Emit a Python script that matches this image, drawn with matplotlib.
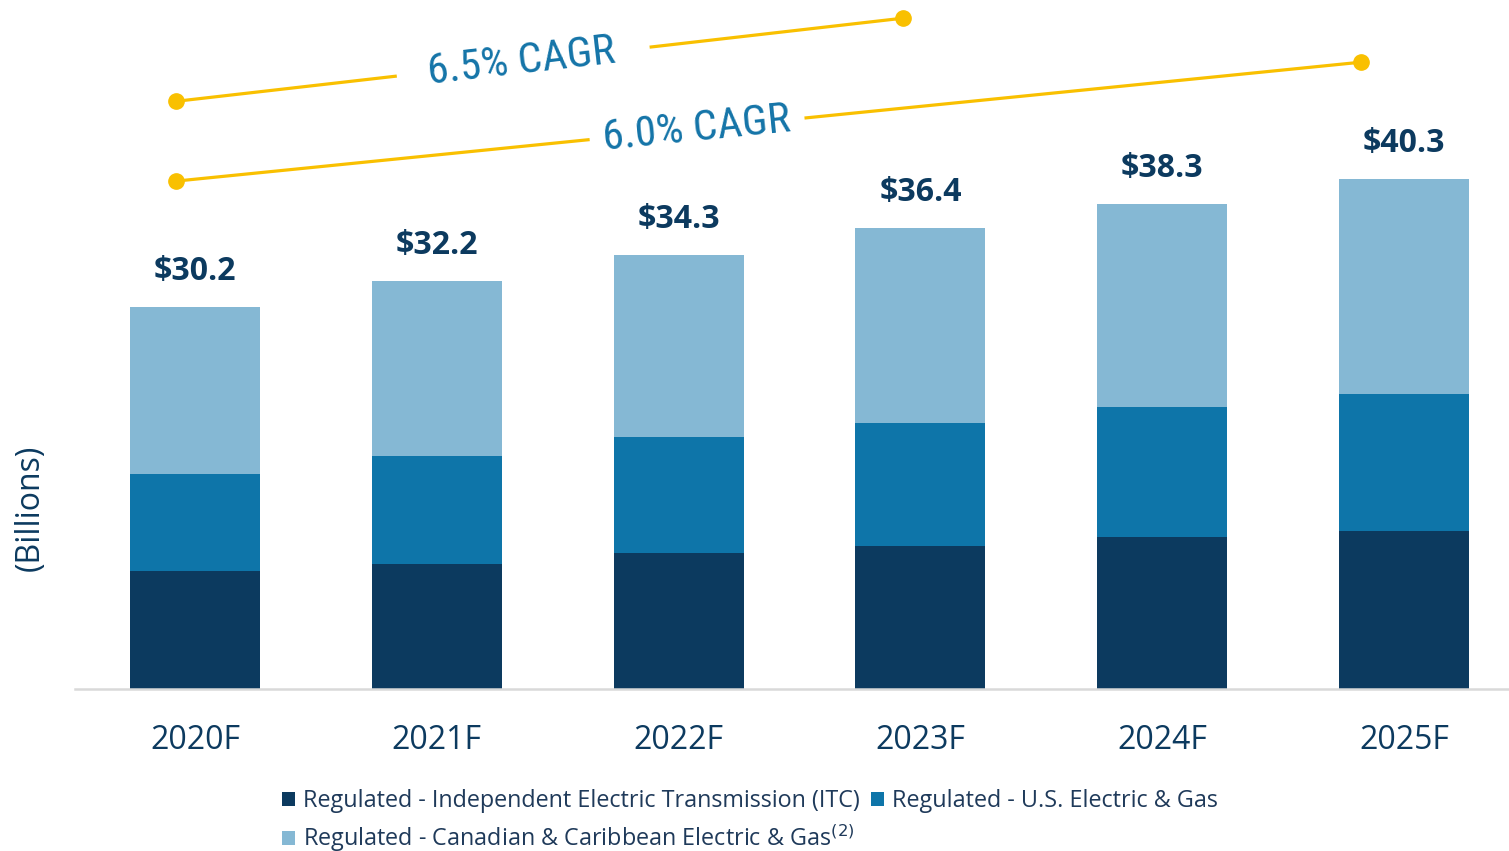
import numpy as np
import matplotlib
matplotlib.use("Agg")
import matplotlib.pyplot as plt

# datos (miles de millones)
years = ["2020F", "2021F", "2022F", "2023F", "2024F", "2025F"]
itc = [9.3, 9.9, 10.7, 11.3, 12.0, 12.5]
us_elec = [7.7, 8.5, 9.2, 9.7, 10.3, 10.8]
can_car = [13.2, 13.8, 14.4, 15.4, 16.0, 17.0]
totals = ["$30.2", "$32.2", "$34.3", "$36.4", "$38.3", "$40.3"]
cagr_labels = ["6.5% CAGR", "6.0% CAGR"]
legend_labels = ["Regulated - Independent Electric Transmission (ITC)",
                 "Regulated - U.S. Electric & Gas",
                 "Regulated - Canadian & Caribbean Electric & Gas$^{(2)}$"]

c_dark = "#0C3A5F"
c_mid = "#0E75A9"
c_light = "#85B8D4"
c_gold = "#F9C000"
c_text = "#0C3A5F"

plt.rcParams["font.family"] = ["Open Sans", "DejaVu Sans"]

fig = plt.figure(figsize=(15.09, 8.51), dpi=100)
ax = fig.add_axes([75 / 1509, 162 / 851, 1 - 75 / 1509, 1 - 162 / 851])

x = np.arange(len(years))
w = 0.537
b1 = ax.bar(x, itc, w, color=c_dark, linewidth=0)
bot2 = np.array(itc)
b2 = ax.bar(x, us_elec, w, bottom=bot2, color=c_mid, linewidth=0)
bot3 = bot2 + np.array(us_elec)
b3 = ax.bar(x, can_car, w, bottom=bot3, color=c_light, linewidth=0)
tops = bot3 + np.array(can_car)

for xi, t, lab in zip(x, tops, totals):
    ax.text(xi, t + 1.5, lab, ha="center", va="bottom", fontsize=23,
            fontweight="bold", color=c_text)

ax.set_xlim(-0.496, 5.434)
ax.set_ylim(0, 54.4)
ax.set_xticks(x)
ax.set_xticklabels(years, fontsize=23, color=c_text)
ax.tick_params(axis="x", length=0, pad=25)
ax.set_yticks([])
for s in ["top", "left", "right"]:
    ax.spines[s].set_visible(False)
ax.spines["bottom"].set_color("#D9D9D9")
ax.spines["bottom"].set_linewidth(1.8)

fig.text(30 / 1509, 1 - 508 / 851, "(Billions)", rotation=90, ha="center",
         va="center", fontsize=23, color=c_text)

# lineas CAGR (decoracion)
def cagr_line(x0, y0, x1, y1, g0, g1, label, tx):
    def yat(xx):
        return y0 + (y1 - y0) * (xx - x0) / (x1 - x0)
    ax.plot([x0, g0], [y0, yat(g0)], color=c_gold, lw=2.3, solid_capstyle="butt", clip_on=False)
    ax.plot([g1, x1], [yat(g1), y1], color=c_gold, lw=2.3, solid_capstyle="butt", clip_on=False)
    ax.plot([x0, x1], [y0, y1], "o", color=c_gold, ms=11, clip_on=False)
    p0 = ax.transData.transform((x0, y0))
    p1 = ax.transData.transform((x1, y1))
    ang = np.degrees(np.arctan2(p1[1] - p0[1], p1[0] - p0[0]))
    ax.text(tx, yat(tx), label, rotation=ang, rotation_mode="anchor",
            ha="center", va="center", fontsize=31, color="#1474A8",
            family=["Roboto Condensed", "Roboto"], fontweight="normal",
            clip_on=False)

cagr_line(-0.0785, 46.4, 2.926, 52.96, (397 - 195) / 242, (650 - 195) / 242,
          cagr_labels[0], (522 - 195) / 242)
cagr_line(-0.0785, 40.1, 4.822, 49.49, (590 - 195) / 242, (805 - 195) / 242,
          cagr_labels[1], (697 - 195) / 242)

leg = fig.legend([b1, b3, b2], [legend_labels[0], legend_labels[2], legend_labels[1]],
                 ncol=2, loc="upper left", bbox_to_anchor=(282 / 1509, 1 - 789 / 851),
                 frameon=False, fontsize=16.8, handlelength=0.55, handleheight=0.55,
                 handletextpad=0.35, columnspacing=0.5, labelspacing=0.4,
                 borderpad=0, borderaxespad=0)
for t in leg.get_texts():
    t.set_color("#1F3A5A")

fig.savefig("out.png", dpi=100)
